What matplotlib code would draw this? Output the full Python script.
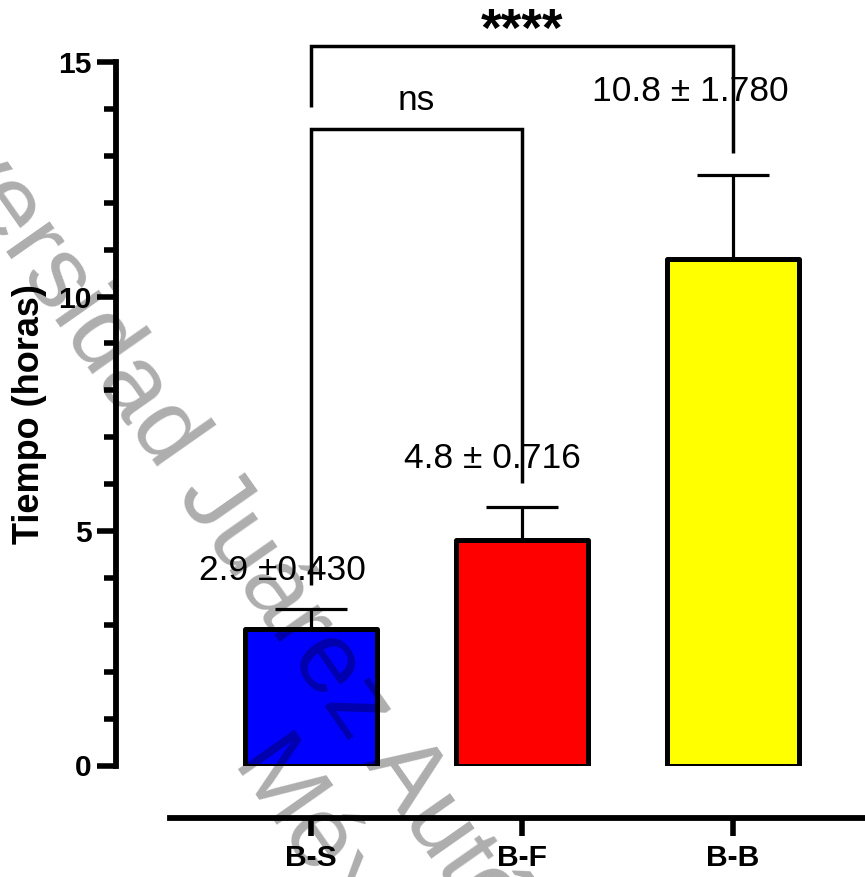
import matplotlib
matplotlib.use("Agg")
import matplotlib.pyplot as plt
from matplotlib.ticker import MultipleLocator

plt.rcParams["font.family"] = ["Liberation Sans", "DejaVu Sans"]

# Data
groups = ["B-S", "B-F", "B-B"]
means = [2.9, 4.8, 10.8]
sds = [0.430, 0.716, 1.780]
bar_colors = ["#0000FF", "#FF0000", "#FFFF00"]
value_labels = ["2.9 ±0.430", "4.8 ± 0.716", "10.8 ± 1.780"]
y_ticks = [0, 5, 10, 15]
y_label = "Tiempo (horas)"

# Significance brackets: (left group, right group, bar height, left leg end, right leg end, text)
brackets = [
    (0, 1, 13.57, 3.85, 6.02, "ns"),
    (0, 2, 15.34, 14.04, 13.06, "****"),
]

DPI = 100
W, H = 865, 877
fig = plt.figure(figsize=(W / DPI, H / DPI), dpi=DPI)

# axes placed in pixel units
ax_left, ax_right = 116, 865
ax_top, ax_bottom = 62, 765.5
ax = fig.add_axes([ax_left / W, 1 - ax_bottom / H,
                   (ax_right - ax_left) / W, (ax_bottom - ax_top) / H])

px_per_group = 211.0
x = list(range(len(groups)))
ax.set_xlim((ax_left - 311) / px_per_group, (ax_right - 311) / px_per_group)
ax.set_ylim(0, 15)

# error bars (upper only) then bars
ax.errorbar(x, means, yerr=[[0] * len(sds), sds], fmt="none", ecolor="black",
            elinewidth=2.3, capsize=26, capthick=2.3, zorder=2)
bars = ax.bar(x, means, width=0.63, color=bar_colors, edgecolor="black",
              linewidth=3.6, zorder=3)
for b in bars:
    b.set_joinstyle("round")

# mean ± SD labels
label_pos = [(-0.137, 3.955), (0.860, 6.34), (1.796, 14.17)]
for (lx, ly), txt in zip(label_pos, value_labels):
    ax.text(lx, ly, txt, ha="center", va="baseline", fontsize=25.5,
            color="black", clip_on=False, zorder=4)

# significance brackets
for g1, g2, yh, y1, y2, txt in brackets:
    ax.plot([g1, g1, g2, g2], [y1, yh, yh, y2], color="black", lw=2.5,
            solid_joinstyle="miter", solid_capstyle="butt", clip_on=False, zorder=4)
for g1, g2, yh, y1, y2, txt in brackets:
    mid = (g1 + g2) / 2
    if txt == "ns":
        ax.text(mid, yh + 0.41, txt, ha="center", va="baseline", fontsize=25.5,
                clip_on=False)
    else:
        ax.text(mid, yh + 0.30, txt, ha="center", va="center", fontsize=38,
                fontweight="bold", clip_on=False)

# spines
for s in ["top", "right"]:
    ax.spines[s].set_visible(False)
ax.spines["left"].set_linewidth(4.2)
ax.spines["bottom"].set_linewidth(4.2)
ax.spines["bottom"].set_position(("outward", (818 - ax_bottom) * 72 / DPI))
ax.spines["bottom"].set_bounds((170 - 311) / px_per_group, (ax_right - 311) / px_per_group)

ax.set_yticks(y_ticks)
ax.yaxis.set_minor_locator(MultipleLocator(1))
ax.tick_params(axis="y", which="major", length=13.7, width=4, pad=3.6,
               labelsize=21.6)
ax.tick_params(axis="y", which="minor", length=8.6, width=4)
for lab in ax.get_yticklabels():
    lab.set_fontweight("bold")

ax.set_xticks(x)
ax.set_xticklabels(groups, fontsize=21.6, fontweight="bold")
ax.tick_params(axis="x", which="major", length=13, width=4, pad=5.5)

ax.text(-0.115, 0.5, y_label, transform=ax.transAxes, rotation=90,
        ha="center", va="center", fontsize=26, fontweight="bold")

# watermark
wm_kw = dict(rotation=-55, rotation_mode="anchor", ha="left", va="baseline",
             fontsize=73, color="black", alpha=0.32)
fig.text(-147 / W, 1 - 33 / H, "Universidad Juárez Autónoma de Tabasco", **wm_kw)
fig.text(228 / W, 1 - 768 / H, "México", **wm_kw)

fig.savefig("out.png", dpi=DPI)
